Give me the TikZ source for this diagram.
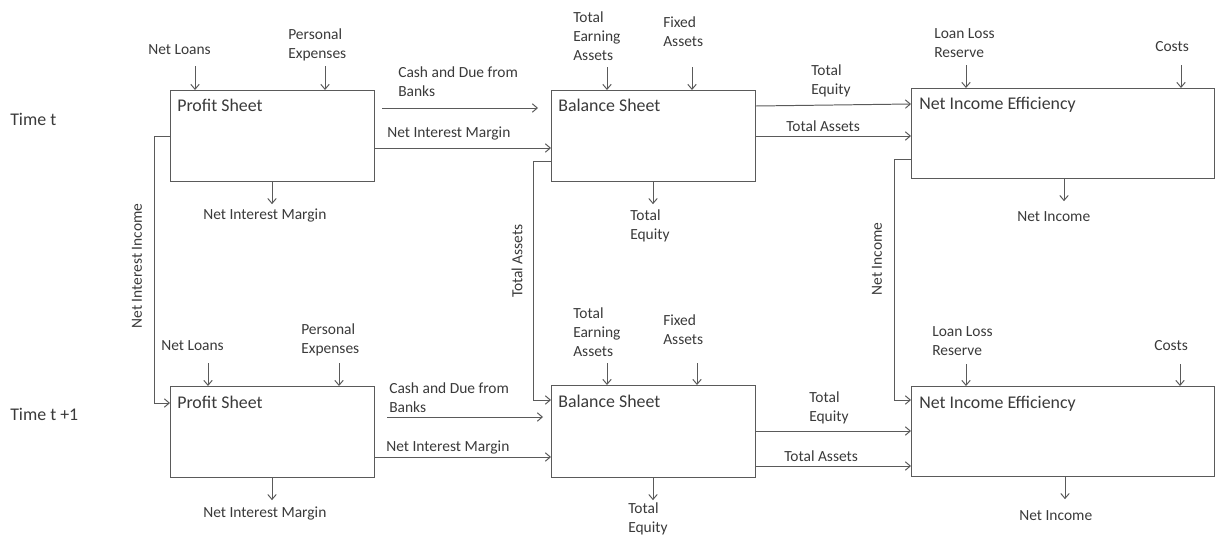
\documentclass[tikz,border=0pt]{standalone}
\usepackage{fontspec}
\setmainfont{Carlito}
\usepackage{tikz}
\usetikzlibrary{arrows.meta, positioning}
\definecolor{linegray}{HTML}{5A5A5A}
\definecolor{textgray}{HTML}{3A3A3A}
\tikzstyle{box} = [rectangle, draw=linegray, line width=0.8pt, minimum width=5.1cm, minimum height=2.275cm, anchor=north west, inner sep=0pt]
\tikzstyle{title} = [anchor=base west, inner sep=0pt, text=textgray, font=\fontsize{12.7}{15}\selectfont]
\tikzstyle{lbl} = [anchor=west, inner sep=0pt, align=left, text=textgray, font=\fontsize{11}{13.5}\selectfont]
\tikzstyle{vlbl} = [lbl, anchor=center, rotate=90]
\tikzstyle{arrow} = [draw=linegray, line width=0.7pt, -{Straight Barb[length=3.5pt,width=6pt]}]
\tikzstyle{inarrow} = [draw=linegray, line width=0.7pt, {Straight Barb[length=3.5pt,width=6pt]}-]

\begin{document}
\begin{tikzpicture}[x=0.025cm, y=-0.025cm]
  \useasboundingbox (0,0) rectangle (1217,538);

  % Time t
  \node[title, anchor=west] (tt1) at (10,119) {Time t};
  \node[box] (ps1) at (170,90) {};
  \node[box] (bs1) at (551,90) {};
  \node[box, minimum width=7.575cm, minimum height=2.25cm] (nie1) at (911,88) {};
  \node[title] (pst1) at ([shift={(7,22)}]ps1.north west) {Profit Sheet};
  \node[title] (bst1) at ([shift={(7,22)}]bs1.north west) {Balance Sheet};
  \node[title] (niet1) at ([shift={(8,22)}]nie1.north west) {Net Income Efficiency};

  % Time t +1
  \node[title, anchor=west] (tt2) at (10,414) {Time t +1};
  \node[box] (ps2) at (170,386) {};
  \node[box, minimum height=2.3cm] (bs2) at (551,385) {};
  \node[box, minimum width=7.575cm, minimum height=2.25cm] (nie2) at (911,386) {};
  \node[title] (pst2) at ([shift={(7,22)}]ps2.north west) {Profit Sheet};
  \node[title] (bst2) at ([shift={(7,22)}]bs2.north west) {Balance Sheet};
  \node[title] (niet2) at ([shift={(8,22)}]nie2.north west) {Net Income Efficiency};

  % Labels, time t
  \node[lbl] (nl1) at (148,50) {Net Loans};
  \node[lbl] (pe1) at (288,44.5) {Personal\\Expenses};
  \node[lbl] (nim1) at (203,216) {Net Interest Margin};
  \node[lbl] (cdb1) at (398,82) {Cash and Due from\\Banks};
  \node[lbl] (nimc1) at (387,134) {Net Interest Margin};
  \node[lbl] (tea1) at (573,36) {Total\\Earning\\Assets};
  \node[lbl] (fa1) at (663,32) {Fixed\\Assets};
  \node[lbl] (te1) at (630,225.5) {Total\\Equity};
  \node[lbl] (tec1) at (811,81) {Total\\Equity};
  \node[lbl] (tac1) at (786,126) {Total Assets};
  \node[lbl] (llr1) at (934,43.5) {Loan Loss\\Reserve};
  \node[lbl] (co1) at (1155,47) {Costs};
  \node[lbl] (ni1) at (1017,217) {Net Income};

  % Labels, time t +1
  \node[lbl] (nl2) at (161,346) {Net Loans};
  \node[lbl] (pe2) at (301,339.5) {Personal\\Expenses};
  \node[lbl] (nim2) at (203,514) {Net Interest Margin};
  \node[lbl] (cdb2) at (389,398) {Cash and Due from\\Banks};
  \node[lbl] (nimc2) at (386,448) {Net Interest Margin};
  \node[lbl] (tea2) at (573,332) {Total\\Earning\\Assets};
  \node[lbl] (fa2) at (663,329.5) {Fixed\\Assets};
  \node[lbl] (te2) at (628,519) {Total\\Equity};
  \node[lbl] (tec2) at (809,408) {Total\\Equity};
  \node[lbl] (tac2) at (784,456) {Total Assets};
  \node[lbl] (llr2) at (932,341) {Loan Loss\\Reserve};
  \node[lbl] (co2) at (1154,346) {Costs};
  \node[lbl] (ni2) at (1019,516) {Net Income};

  % Between the two times
  \node[vlbl] (nii) at (137,266) {Net Interest Income};
  \node[vlbl] (tav) at (517,261) {Total Assets};
  \node[vlbl] (niv) at (877,259) {Net Income};

  % Inputs from above
  \draw[inarrow] (ps1.north -| 195,0) -- ++(0,-24);
  \draw[inarrow] (ps1.north -| 325,0) -- ++(0,-24);
  \draw[inarrow] (bs1.north -| 607,0) -- ++(0,-23);
  \draw[inarrow] (bs1.north -| 692,0) -- ++(0,-23);
  \draw[inarrow] (nie1.north -| 966,0) -- ++(0,-23);
  \draw[inarrow] (nie1.north -| 1181,0) -- ++(0,-23);
  \draw[inarrow] (ps2.north -| 208,0) -- ++(0,-23);
  \draw[inarrow] (ps2.north -| 339,0) -- ++(0,-23);
  \draw[inarrow] (bs2.north -| 607,0) -- ++(0,-22);
  \draw[inarrow] (bs2.north -| 697,0) -- ++(0,-22);
  \draw[inarrow] (nie2.north -| 966,0) -- ++(0,-22);
  \draw[inarrow] (nie2.north -| 1180,0) -- ++(0,-22);

  % Outputs below
  \draw[arrow] (ps1.south -| 272,0) -- ++(0,22);
  \draw[arrow] (bs1.south -| 653,0) -- ++(0,22);
  \draw[arrow] (nie1.south -| 1064,0) -- ++(0,22);
  \draw[arrow] (ps2.south -| 272,0) -- ++(0,22);
  \draw[arrow] (bs2.south -| 653,0) -- ++(0,22);
  \draw[arrow] (nie2.south -| 1065,0) -- ++(0,22);

  % Connections, time t
  \draw[arrow] (cdb1.south west |- 0,108) ++(-16,0) -- ++(156,0);
  \draw[arrow] (ps1.east |- 0,148) -- (bs1.west |- 0,148);
  \draw[arrow] (bs1.east |- 0,106) -- (nie1.west |- 0,104);
  \draw[arrow] (bs1.east |- 0,136) -- (nie1.west |- 0,136);

  % Connections, time t +1
  \draw[arrow] (cdb2.south west |- 0,417) ++(-2,0) -- ++(156,0);
  \draw[arrow] (ps2.east |- 0,457) -- (bs2.west |- 0,457);
  \draw[arrow] (bs2.east |- 0,431) -- (nie2.west |- 0,431);
  \draw[arrow] (bs2.east |- 0,466) -- (nie2.west |- 0,466);

  % From time t to time t +1
  \draw[arrow] (ps1.west |- 0,136) -- ++(-16,0) |- (ps2.west |- 0,403);
  \draw[arrow] (bs1.west |- 0,161) -- ++(-18,0) |- (bs2.west |- 0,400);
  \draw[arrow] (nie1.west |- 0,159) -- ++(-17,0) |- (nie2.west |- 0,400);
\end{tikzpicture}
\end{document}
